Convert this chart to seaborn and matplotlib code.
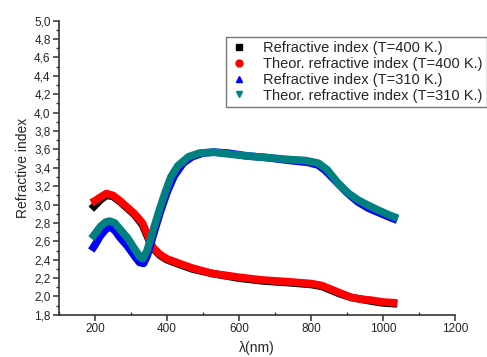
import numpy as np
import pandas as pd
import matplotlib
matplotlib.use('Agg')
import matplotlib.pyplot as plt
import seaborn as sns
from matplotlib.lines import Line2D
from matplotlib.ticker import MultipleLocator, FuncFormatter

sns.set_style('white')
plt.rcParams['font.family'] = ['Liberation Sans', 'DejaVu Sans']

# Refractive index (T=400 K.) - measured
x_400 = [190, 200, 215, 232, 250, 270, 290, 310, 332, 345, 360, 380, 400, 434, 470,
         526, 600, 664, 740, 802, 830, 849, 880, 912, 940, 968, 1000, 1040]
n_400 = [2.95, 2.99, 3.05, 3.10, 3.09, 3.03, 2.96, 2.89, 2.78, 2.66, 2.53, 2.45, 2.40,
         2.35, 2.30, 2.25, 2.20, 2.17, 2.15, 2.13, 2.11, 2.08, 2.03, 1.99, 1.97, 1.95,
         1.93, 1.92]
# Theoretical refractive index (T=400 K.)
x_400t = x_400
n_400t = [3.02, 3.04, 3.08, 3.12, 3.10, 3.04, 2.97, 2.90, 2.80, 2.68, 2.54, 2.46, 2.41,
          2.36, 2.31, 2.25, 2.21, 2.18, 2.16, 2.14, 2.12, 2.09, 2.04, 1.99, 1.97, 1.96,
          1.94, 1.93]

# Refractive index (T=310 K.) - measured
x_310 = [190, 200, 215, 230, 241, 255, 270, 290, 310, 324, 335, 345, 360, 380, 400, 420,
         445, 470, 500, 530, 570, 620, 680, 740, 790, 820, 840, 870, 900, 930, 960, 990,
         1020, 1040]
n_310 = [2.50, 2.56, 2.66, 2.73, 2.76, 2.72, 2.64, 2.55, 2.44, 2.37, 2.36, 2.44, 2.64,
         2.90, 3.13, 3.31, 3.45, 3.52, 3.56, 3.57, 3.56, 3.53, 3.51, 3.48, 3.46, 3.43,
         3.37, 3.25, 3.13, 3.03, 2.96, 2.91, 2.86, 2.83]
# Theoretical refractive index (T=310 K.)
x_310t = [190, 200, 215, 230, 241, 255, 270, 290, 310, 325, 333, 345, 360, 379, 395, 411,
          430, 460, 490, 530, 572, 620, 680, 740, 784, 821, 845, 876, 905, 931, 960, 987,
          1015, 1042]
n_310t = [2.63, 2.68, 2.76, 2.81, 2.82, 2.80, 2.73, 2.64, 2.52, 2.43, 2.41, 2.50, 2.70,
          2.94, 3.13, 3.30, 3.42, 3.52, 3.56, 3.57, 3.55, 3.53, 3.51, 3.49, 3.48, 3.45,
          3.38, 3.23, 3.12, 3.05, 2.99, 2.94, 2.89, 2.85]

labels = ['Refractive index (T=400 K.)', 'Theor. refractive index (T=400 K.)',
          'Refractive index (T=310 K.)', 'Theor. refractive index (T=310 K.)']
colors = ['black', '#ff0000', '#0000ff', '#008080']
markers = ['s', 'o', '^', 'v']

fig = plt.figure(figsize=(4.87, 3.57), dpi=100)
ax = fig.add_axes([0.121, 0.118, 0.813, 0.824])

series = [(x_400, n_400), (x_400t, n_400t), (x_310, n_310), (x_310t, n_310t)]
for (xs, ys), c in zip(series, colors):
    df = pd.DataFrame({'x': xs, 'y': ys})
    sns.lineplot(data=df, x='x', y='y', ax=ax, color=c, linewidth=5.5, sort=False,
                 solid_capstyle='butt', solid_joinstyle='round')

ax.set_xlim(100, 1200)
ax.set_ylim(1.8, 5.0)
ax.xaxis.set_major_locator(MultipleLocator(200))
ax.xaxis.set_minor_locator(MultipleLocator(100))
ax.yaxis.set_major_locator(MultipleLocator(0.2))
ax.yaxis.set_minor_locator(MultipleLocator(0.1))
ax.yaxis.set_major_formatter(FuncFormatter(lambda v, p: f'{v:.1f}'.replace('.', ',')))

for side in ['top', 'right']:
    ax.spines[side].set_visible(False)
for side in ['left', 'bottom']:
    ax.spines[side].set_color('#333333')
    ax.spines[side].set_linewidth(1.2)
ax.tick_params(which='major', direction='out', length=4, width=1.1, color='#333333',
               labelsize=8.5, left=True, bottom=True, pad=2)
ax.tick_params(which='minor', direction='out', length=2.5, width=1.0, color='#333333',
               left=True, bottom=True)
ax.tick_params(axis='x', which='minor', direction='in')

ax.set_xlabel('λ(nm)', fontsize=10, labelpad=4)
ax.set_ylabel('Refractive index', fontsize=10, labelpad=3)

handles = [Line2D([], [], linestyle='none', marker=m, color=c, markersize=5)
           for m, c in zip(markers, colors)]
leg = ax.legend(handles, labels, loc='upper right', bbox_to_anchor=(1.08, 0.945),
                fontsize=10.5, frameon=True, fancybox=False, handlelength=1.2,
                handletextpad=1.0, labelspacing=0.12, borderpad=0.3, borderaxespad=0)
leg.get_frame().set_edgecolor('#555555')
leg.get_frame().set_linewidth(1.0)

fig.savefig('out.png', dpi=100)
